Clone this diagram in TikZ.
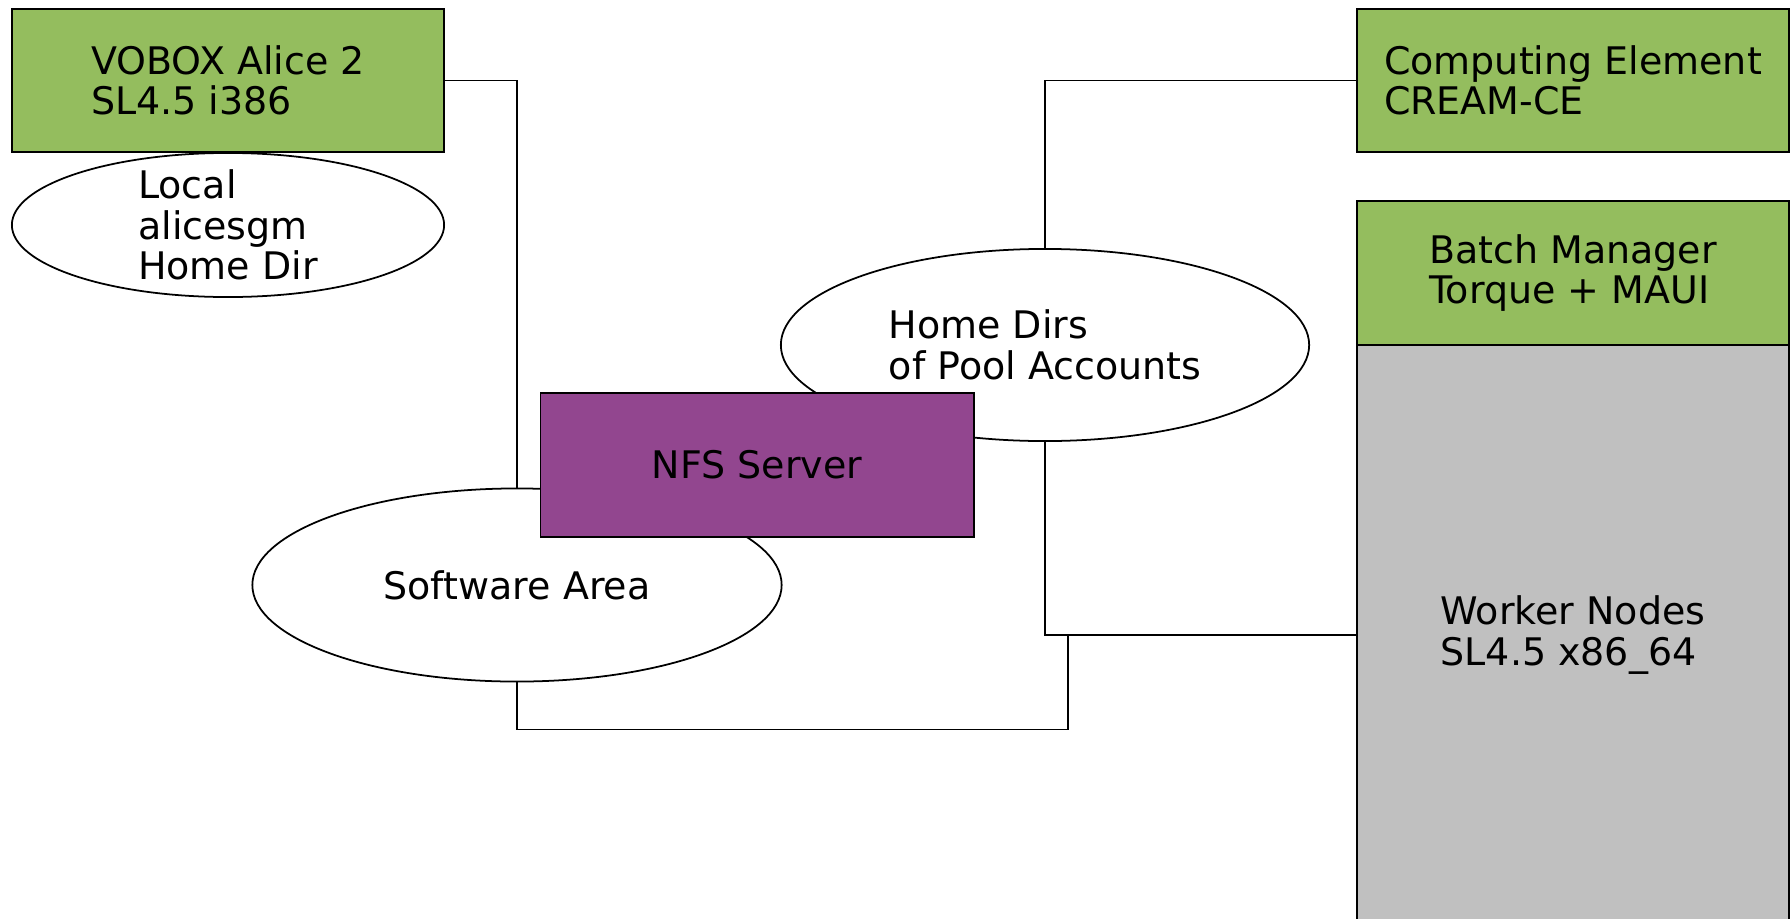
\documentclass[tikz,border=0pt]{standalone}
\usepackage{fontspec}
\setmainfont{DejaVu Sans}
\usetikzlibrary{shapes.geometric}
\definecolor{boxgreen}{HTML}{94BD5E}
\definecolor{nfspurple}{HTML}{92468F}
\definecolor{wngray}{HTML}{C0C0C0}

\begin{document}
\begin{tikzpicture}[x=0.01cm, y=-0.01cm, line width=0.5pt,
  font=\fontsize{10.8}{11.5}\selectfont,
  server/.style={draw=black, fill=boxgreen, minimum width=4.32cm, minimum height=1.43cm, inner sep=0pt, align=left},
  store/.style={draw=black, fill=white, ellipse, inner sep=0pt}]
\useasboundingbox (0,0) rectangle (1791,918);
% hosts
\node[server] (vobox) at (228,80.5) {VOBOX Alice 2\\SL4.5 i386};
\node[server] (ce) at (1573,80.5) {Computing Element\\CREAM-CE};
\node[server, minimum height=1.44cm] (batch) at (1573,273) {Batch Manager\\Torque + MAUI};
\node[server, fill=wngray, minimum height=5.80cm] (wn) at (1573,635) {Worker Nodes\\SL4.5 x86\_64};
% storage areas
\node[store, minimum width=4.32cm, minimum height=1.44cm,
  label={[align=left]center:Local\\alicesgm\\Home Dir}] (local) at (228,225) {};
\node[store, minimum width=5.29cm, minimum height=1.93cm] (soft) at (517,585) {Software Area};
\node[store, minimum width=5.28cm, minimum height=1.92cm, align=left] (home) at (1045,345) {Home Dirs\\of Pool Accounts};
\node[server, fill=nfspurple, minimum width=4.33cm, minimum height=1.44cm] (nfs) at (757,465) {NFS Server};
% links
\draw (vobox.east) -| (soft.north);
\draw (ce.west) -| (home.north);
\draw (home.south) |- (wn.west);
\path (home.south |- wn.west) ++(23,0) coordinate (tap);
\draw (soft.south) -- ++(0,47) -| (tap);
\end{tikzpicture}
\end{document}
